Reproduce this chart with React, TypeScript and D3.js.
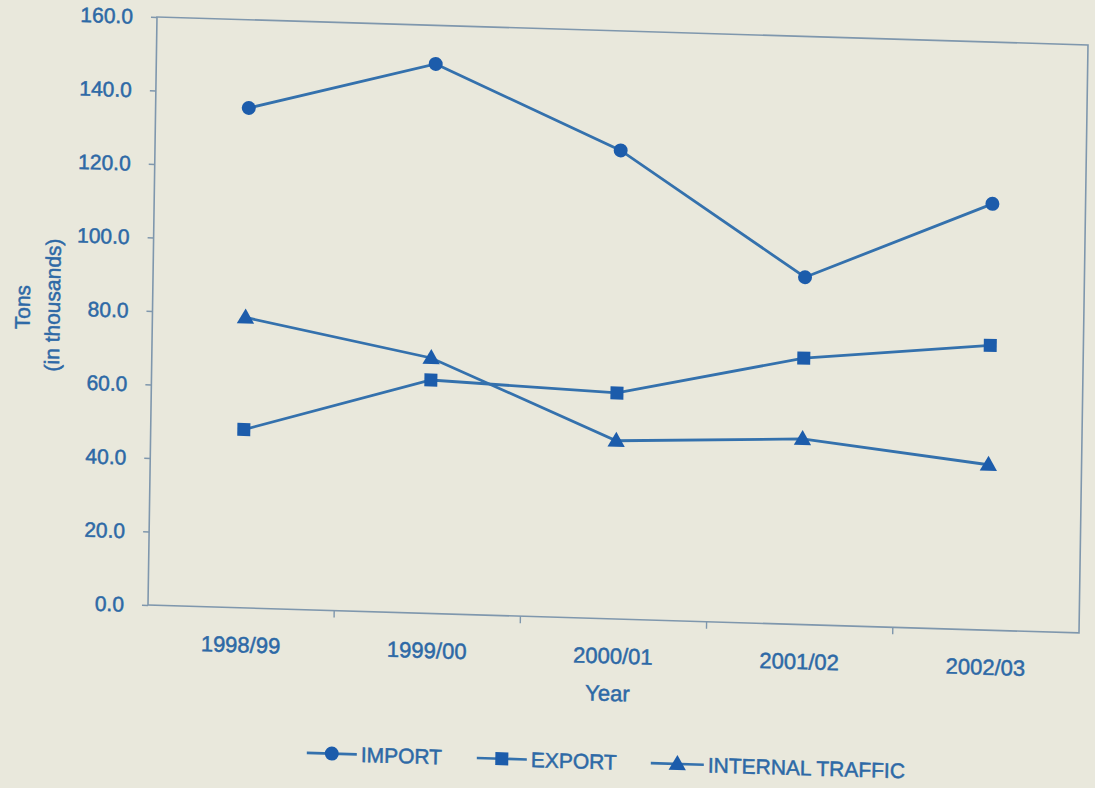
import { useEffect, useRef } from "react"
import { select, scaleBand, scaleLinear, axisLeft, axisBottom, line, symbol, symbolTriangle } from "d3"

const years = ["1998/99", "1999/00", "2000/01", "2001/02", "2002/03"]
const importTons = [136, 149.5, 127.5, 94.5, 116]
const exportTons = [48.5, 63.5, 61.5, 72.5, 77.5]
const internalTons = [79, 69.5, 48.5, 50.5, 45]
const yTicks = [0, 20, 40, 60, 80, 100, 120, 140, 160]
const seriesNames = ["IMPORT", "EXPORT", "INTERNAL TRAFFIC"]

const App = () => {
  const svgRef = useRef<SVGSVGElement>(null)

  useEffect(() => {
    const width = 1095
    const height = 788
    const left = 150
    const right = 1081
    const top = 20
    const bottom = 608
    const font = "'Liberation Sans', Arial, sans-serif"
    const textColor = "#2d69a6"
    const lineColor = "#3471ad"
    const markColor = "#1c5cab"

    const svg = select(svgRef.current)
    svg.selectAll("*").remove()

    svg.append("rect").attr("width", width).attr("height", height).attr("fill", "#e9e8dc")

    // the photo is a bit tilted, so everything sits in a skewed group
    const g = svg.append("g").attr("transform", "matrix(1,0.03,-0.0153,1,7.3,-7.5)")

    const styleText = (sel: any, size: number) =>
      sel.attr("fill", textColor)
        .attr("stroke", textColor).attr("stroke-width", 0.5)
        .style("font-size", size + "px").style("font-family", font)

    const xScale = scaleBand().domain(years).range([left, right])
    const yScale = scaleLinear().domain([0, 160]).range([bottom, top])
    const cx = (d: string) => (xScale(d) as number) + xScale.bandwidth() / 2

    g.append("rect")
      .attr("x", left).attr("y", top)
      .attr("width", right - left).attr("height", bottom - top)
      .attr("fill", "none").attr("stroke", "#7f97ad").attr("stroke-width", 1.6)

    const yAxis = axisLeft(yScale).tickValues(yTicks).tickSize(6).tickPadding(18)
      .tickFormat((d: any) => d.toFixed(1))
    const ya = g.append("g").attr("transform", `translate(${left},0)`).call(yAxis)
    ya.select(".domain").remove()
    ya.selectAll("line").attr("stroke", "#7f97ad").attr("stroke-width", 1.4)
    styleText(ya.selectAll("text"), 21)

    const xAxis = axisBottom(xScale).tickSize(0).tickPadding(29)
    const xa = g.append("g").attr("transform", `translate(0,${bottom})`).call(xAxis)
    xa.select(".domain").remove()
    styleText(xa.selectAll("text"), 22)

    g.selectAll(".xtick")
      .data(years.slice(1))
      .join("line")
      .attr("class", "xtick")
      .attr("x1", d => xScale(d) as number).attr("x2", d => xScale(d) as number)
      .attr("y1", bottom).attr("y2", bottom + 7)
      .attr("stroke", "#7f97ad").attr("stroke-width", 1.4)

    styleText(g.append("text")
      .attr("x", (left + right) / 2 - 5).attr("y", 690)
      .attr("text-anchor", "middle"), 22)
      .text("Year")

    styleText(g.append("text")
      .attr("transform", "translate(20,314) rotate(-90)")
      .attr("text-anchor", "middle").attr("dy", "0.35em"), 21)
      .text("Tons")
    styleText(g.append("text")
      .attr("transform", "translate(50,311) rotate(-90)")
      .attr("text-anchor", "middle").attr("dy", "0.35em"), 21)
      .text("(in thousands)")

    const allSeries = [importTons, exportTons, internalTons]
    const myLine = line<number>()
      .x((v, i) => cx(years[i]))
      .y(v => yScale(v))

    g.selectAll(".line")
      .data(allSeries)
      .join("path")
      .attr("class", "line")
      .attr("d", d => myLine(d))
      .attr("fill", "none")
      .attr("stroke", lineColor)
      .attr("stroke-width", 2.8)

    const tri = symbol().type(symbolTriangle).size(130)

    const drawMark = (sel: any, kind: number, x: number, y: number) => {
      if (kind === 0) {
        sel.append("circle").attr("cx", x).attr("cy", y).attr("r", 7).attr("fill", markColor)
      } else if (kind === 1) {
        sel.append("rect").attr("x", x - 6.5).attr("y", y - 6.5).attr("width", 13).attr("height", 13).attr("fill", markColor)
      } else {
        sel.append("path").attr("d", tri()).attr("transform", `translate(${x},${y + 1})`).attr("fill", markColor)
      }
    }

    allSeries.forEach((vals, k) => {
      vals.forEach((v, i) => drawMark(g, k, cx(years[i]), yScale(v)))
    })

    // legend
    const legendY = 751
    const legendX = [311, 481, 655]
    seriesNames.forEach((name, k) => {
      const lx = legendX[k]
      const lw = k === 2 ? 53 : 50
      g.append("line")
        .attr("x1", lx).attr("x2", lx + lw)
        .attr("y1", legendY).attr("y2", legendY)
        .attr("stroke", lineColor).attr("stroke-width", 2.6)
      drawMark(g, k, lx + lw / 2, legendY)
      styleText(g.append("text")
        .attr("x", lx + lw + 4).attr("y", legendY)
        .attr("dy", "0.36em"), 21)
        .text(name)
    })
  }, [])

  return (
    <svg ref={svgRef} width={1095} height={788} style={{ position: "absolute", left: 0, top: 0 }} />
  )
}

export default App
